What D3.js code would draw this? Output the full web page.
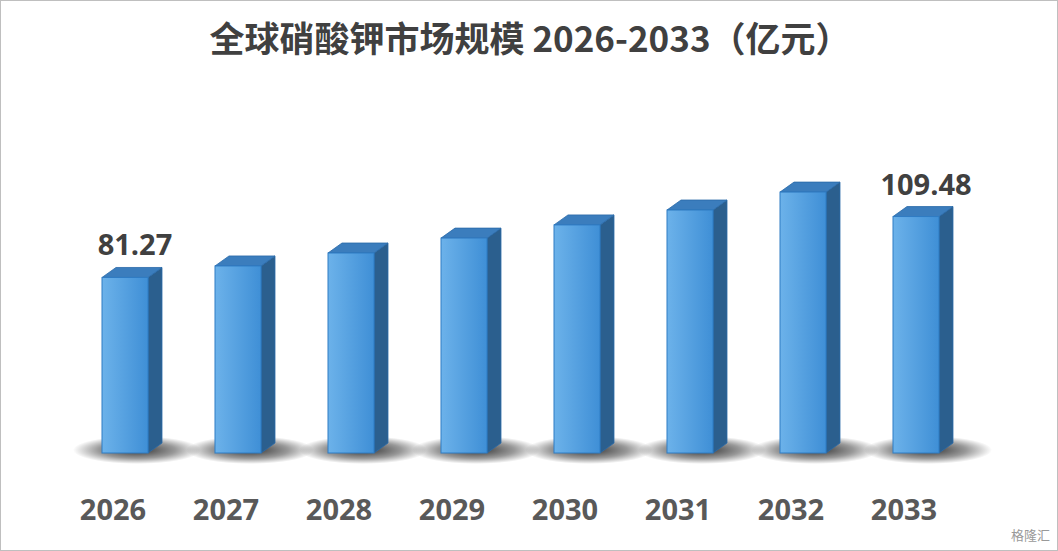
<!DOCTYPE html><html><head><meta charset="utf-8"><script src="https://cdn.jsdelivr.net/npm/d3@7"></script>
<style>body{margin:0;background:#fff}svg{display:block}</style></head><body><svg id="c" width="1058" height="551"></svg>
<script>
const years=["2026","2027","2028","2029","2030","2031","2032","2033"];
const values=[81.27,86.6,92.6,99.5,105.6,112.5,120.8,109.48];
const labelled={"2026":"81.27","2033":"109.48"};
const title="全球硝酸钾市场规模 2026-2033（亿元）";
const svg=d3.select("#c");
svg.append("rect").attr("x",0.5).attr("y",0.5).attr("width",1057).attr("height",550).attr("fill","#fff").attr("stroke","#bfbfbf");
const defs=svg.append("defs");
const g1=defs.append("linearGradient").attr("id","front").attr("x1",0).attr("x2",1);
g1.append("stop").attr("offset",0).attr("stop-color","#6cb2ea");g1.append("stop").attr("offset",1).attr("stop-color","#3f8fd6");
const rg=defs.append("radialGradient").attr("id","sh");
rg.append("stop").attr("offset",0).attr("stop-color","#000").attr("stop-opacity",0.8);
rg.append("stop").attr("offset",0.6).attr("stop-color","#000").attr("stop-opacity",0.4);
rg.append("stop").attr("offset",1).attr("stop-color","#000").attr("stop-opacity",0);
const x=d3.scalePoint().domain(years).range([125,916]);
const y=d3.scaleLinear().domain([0,120]).range([453,453-120/0.463]);
const w=46,dx=14,dy=10;
svg.append("text").attr("x",530).attr("y",52).attr("text-anchor","middle").attr("font-family","Noto Sans CJK SC").attr("font-weight","bold").attr("font-size",35).attr("fill","#404040").text(title);
years.forEach((yr,i)=>{
  const cx=x(yr),l=cx-w/2,t=y(values[i]),b=y(0);
  svg.append("ellipse").attr("cx",cx+12).attr("cy",b-3).attr("rx",64).attr("ry",14).attr("fill","url(#sh)");
  svg.append("path").attr("d",`M${l+w},${t}L${l+w+dx},${t-dy}L${l+w+dx},${b-dy}L${l+w},${b}Z`).attr("fill","#2b5f8e").attr("stroke","#2a6aa8").attr("stroke-width",0.8);
  svg.append("path").attr("d",`M${l},${t}L${l+dx},${t-dy}L${l+w+dx},${t-dy}L${l+w},${t}Z`).attr("fill","#3b7dbd").attr("stroke","#2a6aa8").attr("stroke-width",0.8);
  svg.append("rect").attr("x",l).attr("y",t).attr("width",w).attr("height",b-t).attr("fill","url(#front)").attr("stroke","#2f7cc4").attr("stroke-width",1);
  svg.append("text").attr("x",cx-12).attr("y",520).attr("text-anchor","middle").attr("font-family","Open Sans").attr("font-weight","bold").attr("font-size",29).attr("fill","#595959").text(yr);
  if(labelled[yr]) svg.append("text").attr("x",cx+10).attr("y",t-22).attr("text-anchor","middle").attr("font-family","Open Sans").attr("font-weight","bold").attr("font-size",29).attr("fill","#404040").text(labelled[yr]);
});
svg.append("text").attr("x",1050).attr("y",540).attr("text-anchor","end").attr("font-family","Noto Sans CJK SC").attr("font-size",13).attr("fill","#999").text("格隆汇");
</script></body></html>
